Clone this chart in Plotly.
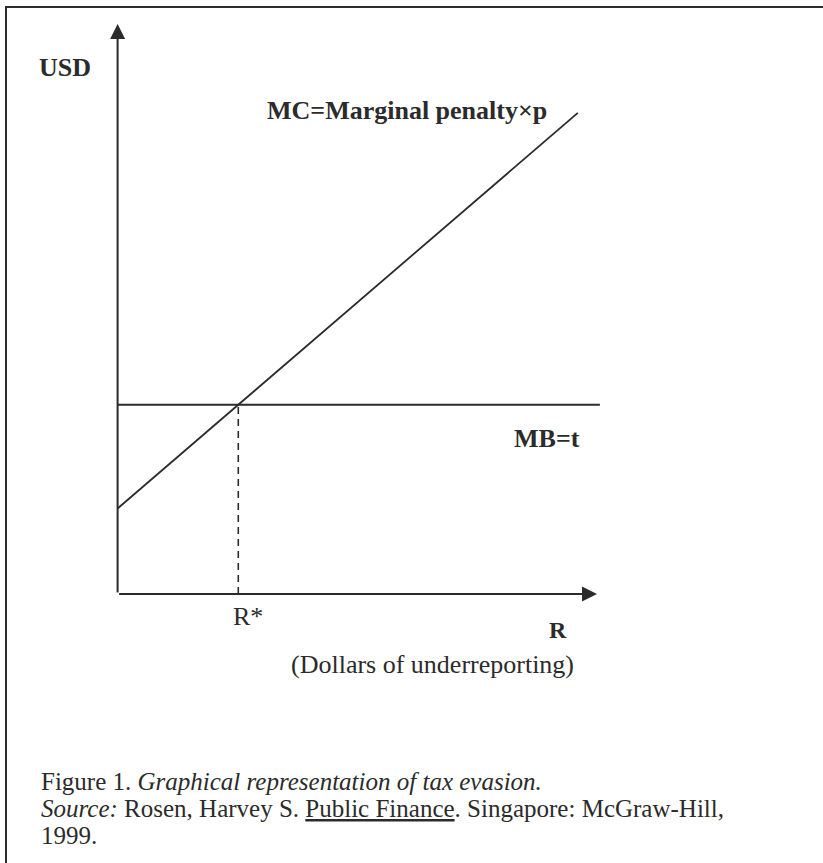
import plotly.graph_objects as go

# ---- data (conceptual units) ----
r_max = 10.0            # end of R axis (arrow tip)
usd_max = 10.0          # end of USD axis (arrow tip)
mb_t = 3.32             # marginal benefit = t (constant)
mb_r = [0.0, 10.06]     # MB line R endpoints
mc_r = [0.0, 9.6]       # MC line R endpoints
mc_usd = [1.5, 8.44]    # MC line USD endpoints

# equilibrium R* where MC = MB
slope = (mc_usd[1] - mc_usd[0]) / (mc_r[1] - mc_r[0])
r_star = mc_r[0] + (mb_t - mc_usd[0]) / slope

W, H = 823, 863
INK = "#2b2b2b"
SERIF = "Liberation Serif, Times New Roman, serif"

# axis origin / tips in pixels -> scale of the canvas
ox, oy = 117.6, 594.0
tipx, tipy = 597.0, 24.0
ppx = (tipx - ox) / r_max
ppy = (oy - tipy) / usd_max
x_range = [-ox / ppx, (W - ox) / ppx]
y_range = [-(H - oy) / ppy, oy / ppy]

fig = go.Figure()

fig.add_trace(go.Scatter(x=mc_r, y=mc_usd, mode="lines",
                         line=dict(color=INK, width=1.8), hoverinfo="skip"))
fig.add_trace(go.Scatter(x=mb_r, y=[mb_t, mb_t], mode="lines",
                         line=dict(color=INK, width=1.8), hoverinfo="skip"))
fig.add_trace(go.Scatter(x=[r_star, r_star], y=[0, mb_t], mode="lines",
                         line=dict(color=INK, width=1.6, dash="7px,5px"),
                         hoverinfo="skip"))

ann = []
# axes drawn as arrows
for (tx, ty) in [(0, usd_max), (r_max, 0)]:
    ann.append(dict(x=tx, y=ty, ax=0, ay=0, xref="x", yref="y", axref="x", ayref="y",
                    showarrow=True, arrowhead=2, arrowsize=1.5, arrowwidth=2,
                    arrowcolor=INK, text=""))

def label(text, x, y, size=26, bold=False, xanchor="center"):
    t = f"<b>{text}</b>" if bold else text
    ann.append(dict(x=x, y=y, xref="x", yref="y", text=t, showarrow=False,
                    xanchor=xanchor, yanchor="middle",
                    font=dict(family=SERIF, size=size, color=INK)))

label("USD", -1.10, 9.23, bold=True)
label("MC=Marginal penalty×p", 6.04, 8.49, bold=True)
label("MB=t", 8.96, 2.72, bold=True)
label("R*", r_star + 0.2, -0.39)
label("R", 9.19, -0.63, size=24, bold=True)
label("(Dollars of underreporting)", 6.56, -1.23)

cap_lines = [
    "Figure 1. <i>Graphical representation of tax evasion.</i>",
    "<i>Source:</i> Rosen, Harvey S. <u>Public Finance</u>. Singapore: McGraw-Hill,",
    "1999.",
]
cap_y = [781, 808, 835]
for txt, yy in zip(cap_lines, cap_y):
    ann.append(dict(x=39 / W, y=1 - yy / H, xref="paper", yref="paper", text=txt,
                    showarrow=False, xanchor="left", yanchor="middle",
                    font=dict(family=SERIF, size=25, color=INK)))

fig.update_layout(
    width=W, height=H,
    margin=dict(l=0, r=0, t=0, b=0),
    paper_bgcolor="white", plot_bgcolor="white",
    showlegend=False,
    annotations=ann,
    xaxis=dict(range=x_range, domain=[0, 1], visible=False, fixedrange=True),
    yaxis=dict(range=y_range, domain=[0, 1], visible=False, fixedrange=True),
    shapes=[dict(type="rect", xref="paper", yref="paper",
                 x0=6 / W, x1=1.2, y0=-0.2, y1=1 - 7 / H,
                 line=dict(color=INK, width=2), fillcolor="rgba(0,0,0,0)",
                 layer="below")],
)

fig.write_html("out.html",
               config={"displayModeBar": False},
               post_script="document.body.style.margin='0';document.body.style.padding='0';")
